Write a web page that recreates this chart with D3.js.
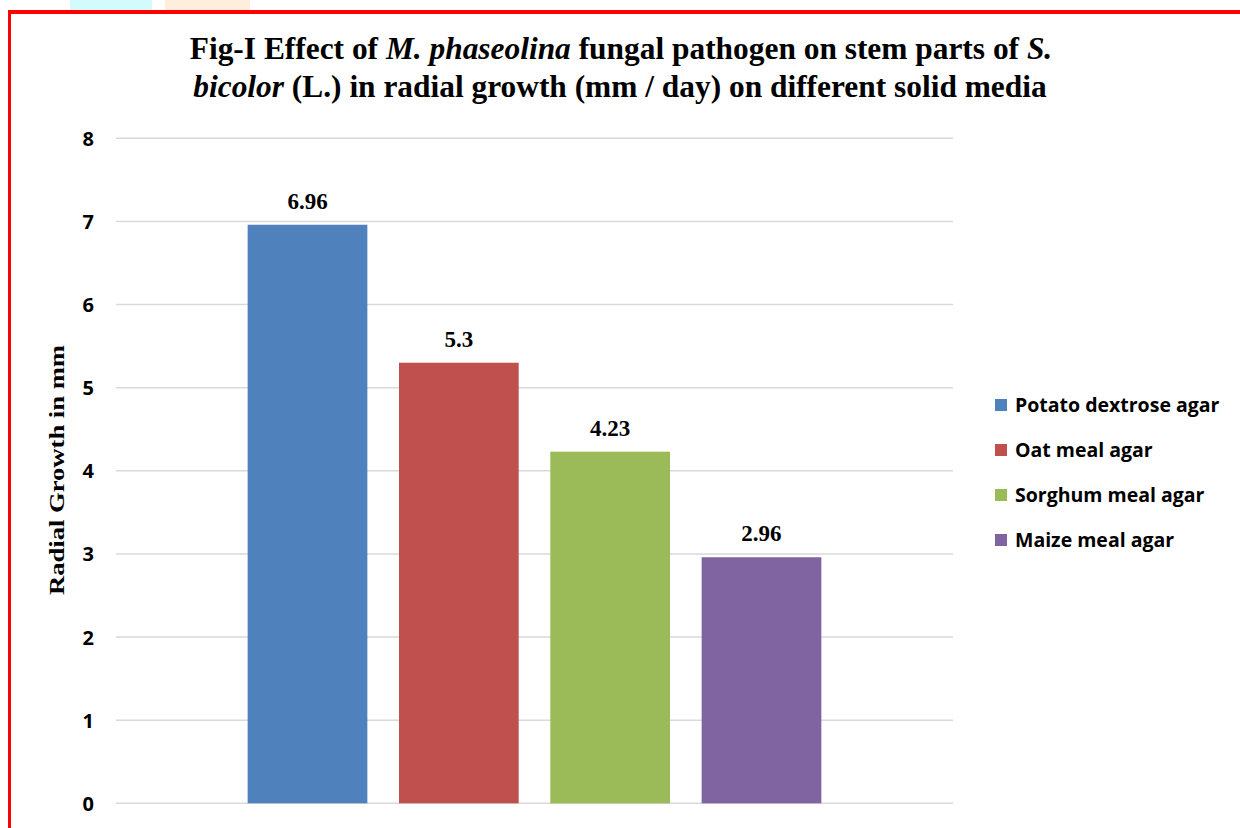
<!DOCTYPE html>
<html><head><meta charset="utf-8">
<script src="https://cdn.jsdelivr.net/npm/d3@7"></script>
<style>html,body{margin:0;padding:0;background:#fff;}svg{display:block;}</style>
</head><body>
<script>
const series = ["Potato dextrose agar", "Oat meal agar", "Sorghum meal agar", "Maize meal agar"];
const values = [6.96, 5.3, 4.23, 2.96];
const valueLabels = ["6.96", "5.3", "4.23", "2.96"];
const colors = ["#4F81BD", "#C0504D", "#9BBB59", "#8064A2"];
const yTicks = [0, 1, 2, 3, 4, 5, 6, 7, 8];
const yAxisTitle = "Radial Growth in mm";

const W = 1240, H = 828;
const svg = d3.select("body").append("svg").attr("width", W).attr("height", H);
svg.append("rect").attr("width", W).attr("height", H).attr("fill", "#fff");

// faint watermark shapes at top
svg.append("rect").attr("x", 70).attr("y", 0).attr("width", 82).attr("height", 10).attr("fill", "#d4fbfb");
svg.append("rect").attr("x", 165).attr("y", 0).attr("width", 85).attr("height", 10).attr("fill", "#fdeedd");

// red border
svg.append("rect").attr("x", 8).attr("y", 10).attr("width", W - 8).attr("height", 4).attr("fill", "#ff0000");
svg.append("rect").attr("x", 8).attr("y", 10).attr("width", 3).attr("height", H - 10).attr("fill", "#ff0000");

const plotL = 116, plotR = 953, plotT = 138.3, plotB = 803.3;
const y = d3.scaleLinear().domain([0, 8]).range([plotB, plotT]);
const x = d3.scaleBand().domain(series).range([plotL, plotR]).paddingInner(0.209).paddingOuter(0.87);

// gridlines
svg.append("g").selectAll("line").data(yTicks).join("line")
  .attr("x1", plotL).attr("x2", plotR)
  .attr("y1", d => y(d)).attr("y2", d => y(d))
  .attr("stroke", "#d9d9d9").attr("stroke-width", 1.5);

// y axis tick labels
const yAxis = d3.axisLeft(y).tickValues(yTicks).tickSize(0).tickPadding(0).tickFormat(d3.format("d"));
const ga = svg.append("g").attr("transform", `translate(94,0)`).call(yAxis);
ga.select(".domain").remove();
ga.selectAll("text").attr("font-family", "'Open Sans', sans-serif").attr("font-weight", "bold")
  .attr("font-size", 20).attr("fill", "#000").attr("dy", "0.35em");

// bars
svg.append("g").selectAll("rect").data(series).join("rect")
  .attr("x", d => x(d)).attr("width", x.bandwidth())
  .attr("y", (d, i) => y(values[i])).attr("height", (d, i) => y(0) - y(values[i]))
  .attr("fill", (d, i) => colors[i]);

// value labels
svg.append("g").selectAll("text").data(series).join("text")
  .attr("x", d => x(d) + x.bandwidth() / 2)
  .attr("y", (d, i) => y(values[i]) - 16)
  .attr("text-anchor", "middle")
  .attr("font-family", "'Liberation Serif', 'Times New Roman', serif").attr("font-weight", "bold")
  .attr("font-size", 23).attr("fill", "#000")
  .text((d, i) => valueLabels[i]);

// title
const title = svg.append("text").attr("text-anchor", "middle")
  .attr("font-family", "'Liberation Serif', 'Times New Roman', serif").attr("font-weight", "bold")
  .attr("font-size", 31.4).attr("fill", "#000");
const l1 = title.append("tspan").attr("x", 621).attr("y", 59);
l1.append("tspan").text("Fig-I Effect of ");
l1.append("tspan").attr("font-style", "italic").text("M. phaseolina");
l1.append("tspan").text(" fungal pathogen on stem parts of ");
l1.append("tspan").attr("font-style", "italic").text("S.");
const l2 = title.append("tspan").attr("x", 620).attr("y", 97);
l2.append("tspan").attr("font-style", "italic").text("bicolor");
l2.append("tspan").text(" (L.) in radial growth (mm / day) on different solid media");

// y axis title
svg.append("text").attr("transform", "translate(64,470) rotate(-90)")
  .attr("text-anchor", "middle")
  .attr("font-family", "'Liberation Serif', 'Times New Roman', serif").attr("font-weight", "bold")
  .attr("font-size", 20).attr("fill", "#000")
  .attr("textLength", 250).attr("lengthAdjust", "spacingAndGlyphs")
  .text(yAxisTitle);

// legend
const lg = svg.append("g").selectAll("g").data(series).join("g")
  .attr("transform", (d, i) => `translate(995,${399 + i * 45})`);
lg.append("rect").attr("width", 12).attr("height", 12).attr("fill", (d, i) => colors[i]);
lg.append("text").attr("x", 20).attr("y", 6).attr("dy", "0.36em")
  .attr("font-family", "'Open Sans', sans-serif").attr("font-weight", "bold")
  .attr("font-size", 19.5).attr("fill", "#000").text(d => d);
</script>
</body></html>
